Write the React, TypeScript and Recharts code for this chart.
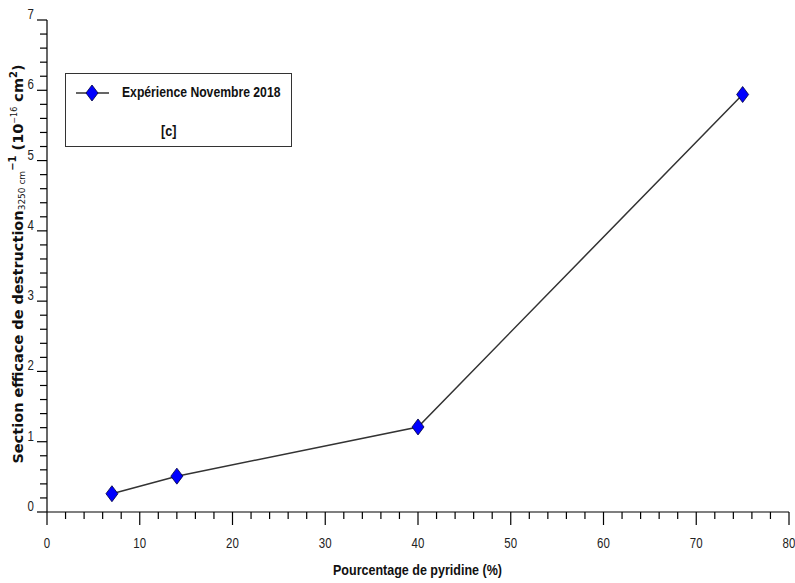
import React from 'react';
import { LineChart, Line, XAxis, YAxis, Legend } from 'recharts';

const pyridinePercent = [7, 14, 40, 75];
const crossSection = [0.26, 0.51, 1.21, 5.94];
const seriesName = 'Expérience Novembre 2018';
const panelTag = '[c]';
const xAxisTitle = 'Pourcentage de pyridine (%)';

const xTicks = [0, 2, 4, 6, 8, 10, 12, 14, 16, 18, 20, 22, 24, 26, 28, 30, 32, 34, 36, 38, 40, 42, 44, 46, 48, 50, 52, 54, 56, 58, 60, 62, 64, 66, 68, 70, 72, 74, 76, 78, 80];
const yTicks = [0, 0.2, 0.4, 0.6, 0.8, 1, 1.2, 1.4, 1.6, 1.8, 2, 2.2, 2.4, 2.6, 2.8, 3, 3.2, 3.4, 3.6, 3.8, 4, 4.2, 4.4, 4.6, 4.8, 5, 5.2, 5.4, 5.6, 5.8, 6, 6.2, 6.4, 6.6, 6.8, 7];

const data = pyridinePercent.map((x, i) => ({ x, y: crossSection[i] }));

const FONT = "'Liberation Sans Narrow', 'Liberation Sans', Arial, sans-serif";
const isInt = (v: number) => Math.abs(v - Math.round(v)) < 1e-6;

const XTick = (props: any) => {
  const { x, y, payload } = props;
  const major = isInt(payload.value / 10);
  return (
    <g>
      <line x1={x} y1={y} x2={x} y2={y + (major ? 13 : 7)} stroke="#000" strokeWidth={1.2} />
      {major && (
        <text
          x={x}
          y={y + 36}
          textAnchor="middle"
          fontFamily={FONT}
          fontSize={14}
          fill="#222"
          transform={`translate(${x}, 0) scale(0.82, 1) translate(${-x}, 0)`}
        >
          {payload.value}
        </text>
      )}
    </g>
  );
};

const YTick = (props: any) => {
  const { x, y, payload } = props;
  const major = isInt(payload.value);
  return (
    <g>
      <line x1={x} y1={y} x2={x - (major ? 10 : 7)} y2={y} stroke="#000" strokeWidth={1.2} />
      {major && (
        <text
          x={x - 13}
          y={y - 1}
          textAnchor="end"
          fontFamily={FONT}
          fontSize={14}
          fill="#222"
          transform={`translate(${x - 13}, 0) scale(0.82, 1) translate(${-(x - 13)}, 0)`}
        >
          {Math.round(payload.value)}
        </text>
      )}
    </g>
  );
};

const Diamond = (props: any) => {
  const { cx, cy } = props;
  if (cx == null || cy == null) return null;
  return (
    <polygon
      points={`${cx},${cy - 8} ${cx + 6},${cy} ${cx},${cy + 8} ${cx - 6},${cy}`}
      fill="#0000ff"
      stroke="#00003a"
      strokeWidth={0.8}
    />
  );
};

const YTitle = () => (
  <text
    transform="translate(23, 264) rotate(-90)"
    textAnchor="middle"
    fontFamily="'DejaVu Sans', Verdana, sans-serif"
    fontWeight="bold"
    fontSize={14.5}
    fill="#111"
  >
    Section efficace de destruction
    <tspan fontSize={9} fontWeight="normal" dy={2}>3250 cm</tspan>
    <tspan fontSize={10} dy={-9}>−1</tspan>
    <tspan dy={7}> (10</tspan>
    <tspan fontSize={8} fontWeight="normal" dy={-6}>−16</tspan>
    <tspan dy={6}> cm</tspan>
    <tspan fontSize={10} dy={-6}>2</tspan>
    <tspan dy={6}>)</tspan>
  </text>
);

const XTitle = () => (
  <text
    x={333}
    y={575}
    textLength={169}
    lengthAdjust="spacingAndGlyphs"
    fontFamily={FONT}
    fontWeight="bold"
    fontSize={14}
    fill="#111"
  >
    {xAxisTitle}
  </text>
);

const LegendBox = () => (
  <div
    style={{
      width: 227,
      height: 74,
      border: '1px solid #333',
      background: '#fff',
      position: 'relative',
      boxSizing: 'border-box',
      fontFamily: FONT,
      fontWeight: 'bold',
      fontSize: 14,
      color: '#111',
    }}
  >
    <svg width={40} height={20} style={{ position: 'absolute', left: 10, top: 9 }}>
      <line x1={0} y1={10} x2={33} y2={10} stroke="#333" strokeWidth={1.5} />
      <polygon points="16,2 22,10 16,18 10,10" fill="#0000ff" stroke="#00003a" strokeWidth={0.8} />
    </svg>
    <span
      style={{
        position: 'absolute',
        left: 56,
        top: 10,
        whiteSpace: 'nowrap',
        transform: 'scaleX(0.87)',
        transformOrigin: 'left center',
      }}
    >
      {seriesName}
    </span>
    <span
      style={{
        position: 'absolute',
        left: 95,
        top: 49,
        whiteSpace: 'nowrap',
        transform: 'scaleX(0.9)',
        transformOrigin: 'left center',
      }}
    >
      {panelTag}
    </span>
  </div>
);

export default function App() {
  return (
    <div style={{ position: 'absolute', left: 0, top: 0, width: 795, height: 583, background: '#fff' }}>
      <LineChart width={795} height={583} data={data} margin={{ top: 20, right: 6, left: 0, bottom: 0 }}>
        <XAxis
          type="number"
          dataKey="x"
          domain={[0, 80]}
          ticks={xTicks}
          interval={0}
          tickSize={0}
          tickMargin={0}
          tickLine={false}
          axisLine={{ stroke: '#000', strokeWidth: 1.2 }}
          tick={<XTick />}
          height={71}
          label={<XTitle />}
        />
        <YAxis
          type="number"
          dataKey="y"
          domain={[0, 7]}
          ticks={yTicks}
          interval={0}
          tickSize={0}
          tickMargin={0}
          tickLine={false}
          axisLine={{ stroke: '#000', strokeWidth: 1.2 }}
          tick={<YTick />}
          width={47}
          label={<YTitle />}
        />
        <Legend
          layout="vertical"
          align="center"
          verticalAlign="middle"
          wrapperStyle={{ left: 65, top: 73, width: 227, height: 74 }}
          content={<LegendBox />}
        />
        <Line
          type="linear"
          dataKey="y"
          name={seriesName}
          stroke="#333"
          strokeWidth={1.5}
          dot={<Diamond />}
          activeDot={false}
          isAnimationActive={false}
        />
      </LineChart>
    </div>
  );
}
